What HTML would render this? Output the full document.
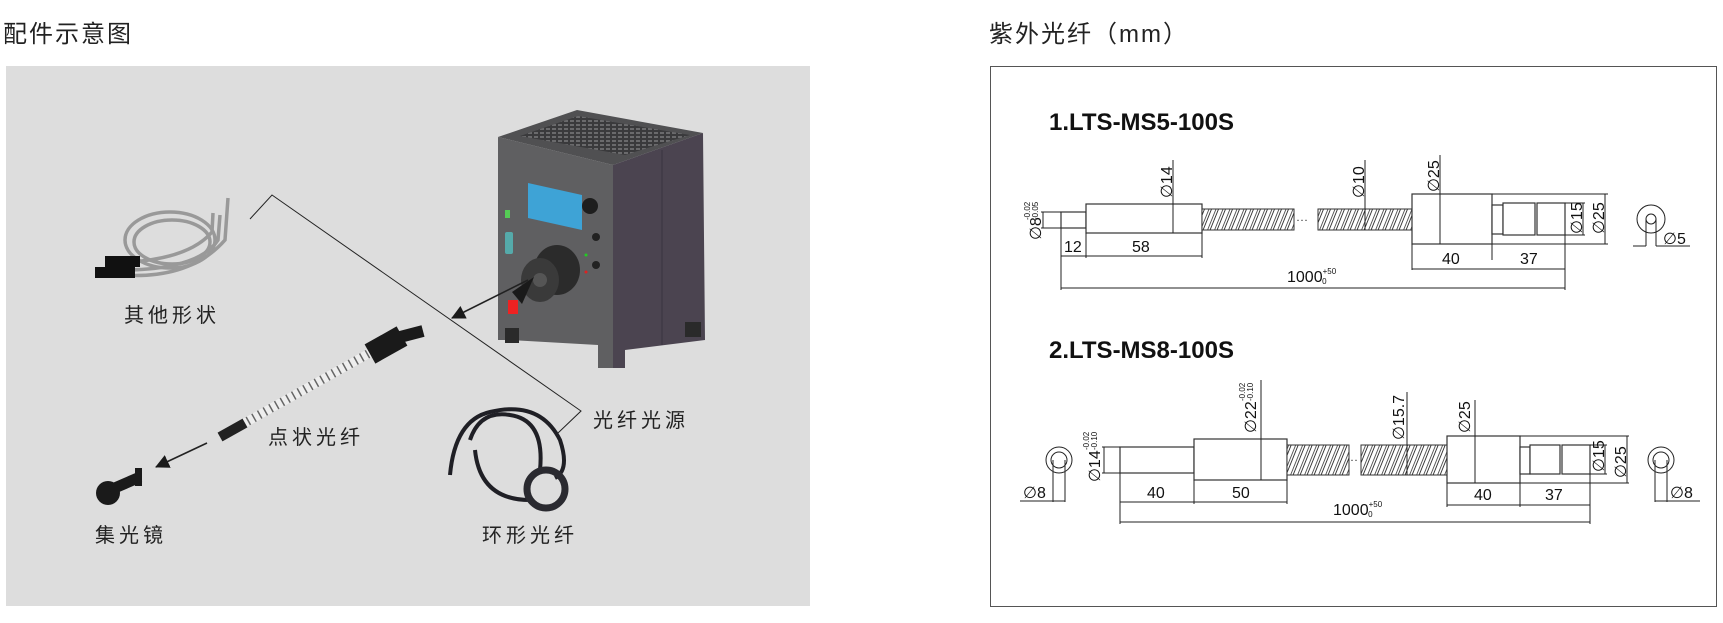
<!DOCTYPE html>
<html><head><meta charset="utf-8"><style>
html,body{margin:0;padding:0;background:#fff}
svg{display:block}
.cn{font-family:"Liberation Sans","Noto Sans CJK SC",sans-serif;fill:#222}
.d{font-family:"Liberation Sans",sans-serif;fill:#111;font-size:16px}
.ln{stroke:#222;stroke-width:1;fill:none}
.sh{stroke:#333;stroke-width:1.2;fill:#fff}
</style></head><body>
<svg width="1723" height="623" viewBox="0 0 1723 623" xmlns="http://www.w3.org/2000/svg">
<defs>
<pattern id="coil" width="7" height="40" patternUnits="userSpaceOnUse" patternTransform="skewX(-22)">
<rect width="7" height="40" fill="#fff"/><line x1="1" y1="0" x2="1" y2="40" stroke="#333" stroke-width="1"/><line x1="5.5" y1="0" x2="5.5" y2="40" stroke="#555" stroke-width="1"/>
</pattern>
<pattern id="vent" width="6" height="4" patternUnits="userSpaceOnUse"><rect width="6" height="4" fill="#3a3a3c"/><rect width="4" height="2" fill="#6a6a6c"/></pattern>
<marker id="ah" markerWidth="14" markerHeight="14" refX="13" refY="7" orient="auto" markerUnits="userSpaceOnUse"><path d="M0,0 L14,7 L0,14 z" fill="#1a1a1a"/></marker>
</defs>

<text class="cn" x="3" y="42" font-size="24" letter-spacing="2">配件示意图</text>
<rect x="6" y="66" width="804" height="540" fill="#dddddd"/>

<!-- device -->
<polygon points="498,137 577,110 703,133 613,165" fill="#505052"/>
<polygon points="520,136 578,116 690,135 625,155" fill="url(#vent)"/>
<polygon points="498,137 613,165 613,368 598,368 598,345 510,340 498,340" fill="#5f5f61"/>
<polygon points="613,165 703,133 705,340 625,350 625,368 613,368" fill="#4b4450"/>
<line x1="662" y1="150" x2="662" y2="345" stroke="#3a3540"/>
<polygon points="528,183 582,195 582,230 528,218" fill="#3ea3d6"/>
<circle cx="590" cy="206" r="8" fill="#1e1e1e"/>
<circle cx="596" cy="237" r="4" fill="#222"/><circle cx="596" cy="265" r="4" fill="#222"/>
<circle cx="586" cy="255" r="1.5" fill="#2c2"/><circle cx="586" cy="272" r="1.5" fill="#d22"/>
<rect x="505" y="210" width="5" height="8" fill="#5c5"/>
<rect x="505" y="232" width="8" height="22" fill="#5aa" rx="2"/>
<ellipse cx="557" cy="270" rx="23" ry="25" fill="#2b2b2b"/>
<ellipse cx="540" cy="280" rx="19" ry="22" fill="#3a3a3a"/>
<circle cx="540" cy="280" r="7" fill="#555"/>
<rect x="508" y="300" width="10" height="14" fill="#e22"/>
<rect x="505" y="328" width="14" height="15" fill="#2a2a2a"/>
<rect x="685" y="322" width="16" height="15" fill="#2a2a2a"/>

<!-- connector lines -->
<polyline class="ln" stroke-width="1.6" points="250,219 272,195 581,411 558,433"/>
<line x1="528" y1="280" x2="452" y2="318" stroke="#222" stroke-width="1.6" marker-end="url(#ah)"/>
<path d="M512,292 L534,277 L522,304 z" fill="#1a1a1a"/>
<line x1="207" y1="443" x2="156" y2="467" stroke="#222" stroke-width="1.6" marker-end="url(#ah)"/>

<!-- other shapes -->
<g fill="none" stroke="#999" stroke-width="3.5">
<ellipse cx="170" cy="240" rx="45" ry="28"/>
<ellipse cx="172" cy="242" rx="38" ry="22"/>
<path d="M120,275 Q190,280 225,240 L228,198"/>
<path d="M130,270 Q200,268 218,240 L220,215"/>
<path d="M130,262 Q190,258 212,232 L213,213"/>
</g>
<rect x="95" y="267" width="40" height="11" fill="#111"/>
<rect x="105" y="256" width="35" height="11" fill="#111"/>
<text class="cn" x="124" y="322" font-size="20" letter-spacing="4">其他形状</text>

<!-- point fiber -->
<line x1="225" y1="434" x2="375" y2="350" stroke="#eee" stroke-width="9"/>
<line x1="225" y1="434" x2="375" y2="350" stroke="#666" stroke-width="9" stroke-dasharray="1.5 5"/>
<line x1="220" y1="437" x2="245" y2="423" stroke="#222" stroke-width="10"/>
<line x1="370" y1="354" x2="402" y2="336" stroke="#1a1a1a" stroke-width="22"/>
<line x1="400" y1="337" x2="423" y2="331" stroke="#1a1a1a" stroke-width="12"/>
<text class="cn" x="268" y="444" font-size="20" letter-spacing="4">点状光纤</text>

<!-- lens -->
<ellipse cx="108" cy="493" rx="12" ry="12" fill="#1a1a1a"/>
<line x1="110" y1="490" x2="140" y2="477" stroke="#1a1a1a" stroke-width="11"/>
<rect x="135" y="468" width="7" height="18" fill="#1a1a1a"/>
<text class="cn" x="95" y="542" font-size="20" letter-spacing="4">集光镜</text>

<!-- ring fiber -->
<g fill="none" stroke="#1f1f25" stroke-width="4">
<path d="M450,475 Q455,420 490,412 Q540,400 560,440 Q570,470 555,478"/>
<path d="M470,440 Q480,410 510,415 Q545,420 540,470"/>
<path d="M475,450 Q480,500 530,500"/>
</g>
<circle cx="546" cy="489" r="19" fill="none" stroke="#2a2a30" stroke-width="7"/>
<text class="cn" x="593" y="427" font-size="20" letter-spacing="4">光纤光源</text>
<text class="cn" x="482" y="542" font-size="20" letter-spacing="4">环形光纤</text>

<!-- Right -->
<text class="cn" x="989" y="42" font-size="24" letter-spacing="2">紫外光纤（mm）</text>
<rect x="990.5" y="66.5" width="726" height="540" fill="none" stroke="#555" stroke-width="1"/>

<text x="1049" y="130" font-family="Liberation Sans,sans-serif" font-weight="bold" font-size="24" fill="#111">1.LTS-MS5-100S</text>
<rect class="sh" x="1061" y="212" width="25" height="16"/>
<rect class="sh" x="1086" y="204" width="116" height="29"/>
<rect x="1202" y="209" width="92" height="21" fill="url(#coil)" stroke="#333"/>
<text x="1296" y="224" font-size="12" fill="#333">···</text>
<rect x="1318" y="209" width="95" height="21" fill="url(#coil)" stroke="#333"/>
<rect class="sh" x="1412" y="194" width="80" height="50"/>
<rect class="sh" x="1492" y="205" width="11" height="29"/>
<rect class="sh" x="1503" y="203" width="32" height="32"/>
<rect class="sh" x="1537" y="203" width="28" height="32"/>
<g class="ln">
<line x1="1492" y1="194" x2="1608" y2="194"/><line x1="1492" y1="244" x2="1608" y2="244"/><line x1="1605" y1="194" x2="1605" y2="244"/>
<line x1="1565" y1="203" x2="1585" y2="203"/><line x1="1565" y1="235" x2="1585" y2="235"/><line x1="1583" y1="203" x2="1583" y2="235"/>
<line x1="1173" y1="160" x2="1173" y2="233"/><line x1="1365" y1="160" x2="1365" y2="230"/><line x1="1440" y1="155" x2="1440" y2="244"/>
<line x1="1041" y1="212" x2="1061" y2="212"/><line x1="1041" y1="228" x2="1061" y2="228"/><line x1="1043" y1="212" x2="1043" y2="228"/>
<line x1="1061" y1="228" x2="1061" y2="290"/><line x1="1086" y1="233" x2="1086" y2="258"/><line x1="1202" y1="233" x2="1202" y2="258"/>
<line x1="1061" y1="256" x2="1202" y2="256"/>
<line x1="1412" y1="244" x2="1412" y2="270"/><line x1="1492" y1="244" x2="1492" y2="260"/><line x1="1565" y1="235" x2="1565" y2="290"/>
<line x1="1412" y1="269" x2="1565" y2="269"/>
<line x1="1061" y1="288" x2="1565" y2="288"/>
<circle cx="1651" cy="219" r="14"/><circle cx="1651" cy="219" r="5"/>
<line x1="1646" y1="219" x2="1646" y2="246"/><line x1="1656" y1="219" x2="1656" y2="246"/>
<line x1="1633" y1="246" x2="1646" y2="246"/><line x1="1656" y1="246" x2="1690" y2="246"/>
</g>
<text class="d" transform="translate(1172,198) rotate(-90)">∅14</text>
<text class="d" transform="translate(1364,198) rotate(-90)">∅10</text>
<text class="d" transform="translate(1439,192) rotate(-90)">∅25</text>
<text class="d" transform="translate(1582,234) rotate(-90)">∅15</text>
<text class="d" transform="translate(1604,234) rotate(-90)">∅25</text>
<text class="d" transform="translate(1041,240) rotate(-90)">∅8</text>
<text font-family="Liberation Sans,sans-serif" font-size="8" fill="#111" transform="translate(1030,220) rotate(-90)">-0.02</text>
<text font-family="Liberation Sans,sans-serif" font-size="8" fill="#111" transform="translate(1038,220) rotate(-90)">-0.05</text>
<text class="d" x="1064" y="252">12</text><text class="d" x="1132" y="252">58</text>
<text class="d" x="1442" y="264">40</text><text class="d" x="1520" y="264">37</text>
<text class="d" x="1287" y="282">1000<tspan font-size="8" dy="-8">+50</tspan><tspan font-size="8" dx="-14" dy="10">0</tspan></text>
<text class="d" x="1663" y="244">∅5</text>

<text x="1049" y="358" font-family="Liberation Sans,sans-serif" font-weight="bold" font-size="24" fill="#111">2.LTS-MS8-100S</text>
<rect class="sh" x="1120" y="447" width="74" height="26"/>
<rect class="sh" x="1194" y="439" width="93" height="41"/>
<rect x="1287" y="445" width="62" height="30" fill="url(#coil)" stroke="#333"/>
<text x="1350" y="464" font-size="12" fill="#333">··</text>
<rect x="1361" y="445" width="86" height="30" fill="url(#coil)" stroke="#333"/>
<rect class="sh" x="1447" y="436" width="73" height="47"/>
<rect class="sh" x="1520" y="447" width="10" height="27"/>
<rect class="sh" x="1530" y="445" width="30" height="29"/>
<rect class="sh" x="1562" y="445" width="28" height="29"/>
<g class="ln">
<circle cx="1059" cy="460" r="13"/><circle cx="1059" cy="460" r="8"/>
<circle cx="1661" cy="460" r="13"/><circle cx="1661" cy="460" r="8"/>
<line x1="1053" y1="460" x2="1053" y2="502"/><line x1="1065" y1="460" x2="1065" y2="502"/><line x1="1020" y1="501" x2="1065" y2="501"/>
<line x1="1655" y1="460" x2="1655" y2="502"/><line x1="1667" y1="460" x2="1667" y2="502"/><line x1="1655" y1="501" x2="1700" y2="501"/>
<line x1="1102" y1="447" x2="1120" y2="447"/><line x1="1102" y1="473" x2="1120" y2="473"/><line x1="1104" y1="447" x2="1104" y2="473"/>
<line x1="1261" y1="380" x2="1261" y2="480"/><line x1="1407" y1="392" x2="1407" y2="475"/><line x1="1475" y1="400" x2="1475" y2="483"/>
<line x1="1520" y1="436" x2="1629" y2="436"/><line x1="1520" y1="483" x2="1629" y2="483"/><line x1="1627" y1="436" x2="1627" y2="483"/>
<line x1="1590" y1="445" x2="1607" y2="445"/><line x1="1590" y1="474" x2="1607" y2="474"/><line x1="1605" y1="445" x2="1605" y2="474"/>
<line x1="1120" y1="473" x2="1120" y2="524"/><line x1="1194" y1="480" x2="1194" y2="504"/><line x1="1287" y1="480" x2="1287" y2="504"/>
<line x1="1120" y1="502" x2="1287" y2="502"/>
<line x1="1447" y1="483" x2="1447" y2="507"/><line x1="1520" y1="483" x2="1520" y2="507"/><line x1="1590" y1="474" x2="1590" y2="524"/>
<line x1="1447" y1="505" x2="1590" y2="505"/>
<line x1="1120" y1="522" x2="1590" y2="522"/>
</g>
<text class="d" transform="translate(1100,482) rotate(-90)">∅14</text>
<text font-family="Liberation Sans,sans-serif" font-size="8" fill="#111" transform="translate(1089,450) rotate(-90)">-0.02</text>
<text font-family="Liberation Sans,sans-serif" font-size="8" fill="#111" transform="translate(1097,450) rotate(-90)">-0.10</text>
<text class="d" transform="translate(1256,433) rotate(-90)">∅22</text>
<text font-family="Liberation Sans,sans-serif" font-size="8" fill="#111" transform="translate(1245,401) rotate(-90)">-0.02</text>
<text font-family="Liberation Sans,sans-serif" font-size="8" fill="#111" transform="translate(1253,401) rotate(-90)">-0.10</text>
<text class="d" transform="translate(1404,440) rotate(-90)">∅15.7</text>
<text class="d" transform="translate(1470,433) rotate(-90)">∅25</text>
<text class="d" transform="translate(1604,472) rotate(-90)">∅15</text>
<text class="d" transform="translate(1626,478) rotate(-90)">∅25</text>
<text class="d" x="1023" y="498">∅8</text><text class="d" x="1670" y="498">∅8</text>
<text class="d" x="1147" y="498">40</text><text class="d" x="1232" y="498">50</text>
<text class="d" x="1474" y="500">40</text><text class="d" x="1545" y="500">37</text>
<text class="d" x="1333" y="515">1000<tspan font-size="8" dy="-8">+50</tspan><tspan font-size="8" dx="-14" dy="10">0</tspan></text>
</svg>
</body></html>
